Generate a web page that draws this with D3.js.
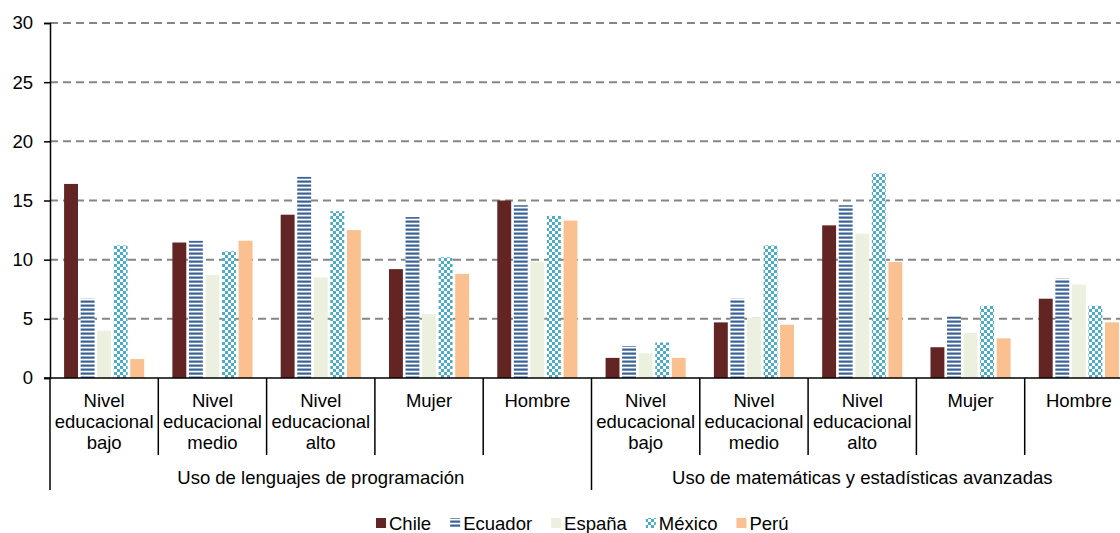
<!DOCTYPE html>
<html>
<head>
<meta charset="utf-8">
<script src="https://cdn.jsdelivr.net/npm/d3@7"></script>
<style>
  body { margin: 0; background: #fff; }
  svg text { font-family: "Liberation Sans", Arial, sans-serif; font-size: 18.5px; fill: #000; }
</style>
</head>
<body>
<svg id="myGraph" width="1120" height="533"></svg>
<script>
// categorías (dos grupos de cinco)
var grupos = ["Uso de lenguajes de programación", "Uso de matemáticas y estadísticas avanzadas"];
var subcats = [["Nivel", "educacional", "bajo"], ["Nivel", "educacional", "medio"], ["Nivel", "educacional", "alto"], ["Mujer"], ["Hombre"]];
var paises = ["Chile", "Ecuador", "España", "México", "Perú"];

// valores por país (10 categorías)
var chile   = [16.4, 11.45, 13.8, 9.2, 15.0, 1.7, 4.7, 12.9, 2.6, 6.7];
var ecuador = [6.7, 11.6, 17.0, 13.6, 14.6, 2.7, 6.7, 14.6, 5.2, 8.4];
var espana  = [4.0, 8.7, 8.5, 5.4, 9.8, 2.1, 5.1, 12.2, 3.8, 7.9];
var mexico  = [11.2, 10.7, 14.1, 10.2, 13.7, 3.0, 11.2, 17.3, 6.1, 6.1];
var peru    = [1.6, 11.6, 12.5, 8.8, 13.3, 1.7, 4.5, 9.8, 3.35, 4.7];
var series = [chile, ecuador, espana, mexico, peru];

var yTicks = [0, 5, 10, 15, 20, 25, 30];

var svg = d3.select("#myGraph");
var mLeft = 50, mTop = 23, mBottom = 378;
var catW = 108.3;
var nCat = 10;
var mRight = mLeft + catW * nCat;

// patrones
var defs = svg.append("defs");
var pEc = defs.append("pattern").attr("id", "pEc").attr("patternUnits", "userSpaceOnUse")
  .attr("width", 4).attr("height", 4);
pEc.append("rect").attr("width", 4).attr("height", 4).attr("fill", "#ffffff");
pEc.append("rect").attr("y", 0.5).attr("width", 4).attr("height", 2.2).attr("fill", "#3a6195");
var pMx = defs.append("pattern").attr("id", "pMx").attr("patternUnits", "userSpaceOnUse")
  .attr("width", 6).attr("height", 6);
pMx.append("rect").attr("width", 6).attr("height", 6).attr("fill", "#ffffff");
pMx.append("rect").attr("width", 3).attr("height", 3).attr("fill", "#4bacc6");
pMx.append("rect").attr("x", 3).attr("y", 3).attr("width", 3).attr("height", 3).attr("fill", "#4bacc6");

var fills = ["#632523", "url(#pEc)", "#ebf1de", "url(#pMx)", "#fac090"];

var y = d3.scaleLinear().domain([0, 30]).range([mBottom, mTop]);
var x0 = d3.scaleBand().domain(d3.range(nCat)).range([mLeft, mRight]).padding(0);
var x1 = d3.scaleBand().domain(paises).range([catW * 0.13, catW * 0.87]).paddingInner(0.16);

// líneas de cuadrícula
svg.append("g").selectAll("line")
  .data(yTicks.filter(function(d){ return d > 0; }))
  .enter().append("line")
  .attr("x1", mLeft).attr("x2", 1120)
  .attr("y1", function(d){ return y(d); }).attr("y2", function(d){ return y(d); })
  .attr("stroke", "#868686").attr("stroke-width", 2).attr("stroke-dasharray", "8,5");

// barras
var grp = svg.append("g").selectAll("g")
  .data(series).enter().append("g")
  .attr("fill", function(d, i){ return fills[i]; });
grp.selectAll("rect")
  .data(function(d, i){ return d.map(function(v, j){ return {v: v, j: j, p: paises[i]}; }); })
  .enter().append("rect")
  .attr("x", function(d){ return x0(d.j) + x1(d.p); })
  .attr("y", function(d){ return y(d.v); })
  .attr("width", x1.bandwidth())
  .attr("height", function(d){ return y(0) - y(d.v); });

// eje Y
var yAxis = d3.axisLeft(y).tickValues(yTicks).tickSize(6).tickPadding(11);
var gy = svg.append("g").attr("transform", "translate(" + mLeft + ",0)").call(yAxis);
gy.select(".domain").attr("stroke", "#000").attr("stroke-width", 1.5);
gy.selectAll(".tick line").attr("stroke", "#000").attr("stroke-width", 1.5);
gy.selectAll(".tick text").attr("font-size", 18.5).attr("font-family", "Liberation Sans, Arial, sans-serif").attr("fill", "#000");

// eje X
svg.append("line").attr("x1", mLeft - 6).attr("x2", 1120).attr("y1", mBottom).attr("y2", mBottom)
  .attr("stroke", "#000").attr("stroke-width", 1.5);

// separadores de categorías
var seps = d3.range(nCat + 1);
svg.append("g").selectAll("line").data(seps).enter().append("line")
  .attr("x1", function(d){ return mLeft + d * catW; })
  .attr("x2", function(d){ return mLeft + d * catW; })
  .attr("y1", mBottom)
  .attr("y2", function(d){ return d % 5 === 0 ? 490 : 455; })
  .attr("stroke", "#000").attr("stroke-width", 1.5);

// etiquetas de categorías
var labs = svg.append("g").selectAll("text").data(d3.range(nCat)).enter().append("text")
  .attr("text-anchor", "middle")
  .attr("x", function(d){ return x0(d) + x0.bandwidth() / 2; })
  .attr("y", 407);
labs.selectAll("tspan")
  .data(function(d){ return subcats[d % 5]; })
  .enter().append("tspan")
  .attr("x", function(){ return d3.select(this.parentNode).attr("x"); })
  .attr("dy", function(d, i){ return i === 0 ? 0 : 21; })
  .text(function(d){ return d; });

// etiquetas de grupo
svg.append("g").selectAll("text").data(grupos).enter().append("text")
  .attr("text-anchor", "middle")
  .attr("x", function(d, i){ return mLeft + catW * 5 * i + catW * 2.5; })
  .attr("y", 484)
  .text(function(d){ return d; });

// leyenda
var lg = svg.append("g");
var lx = 376;
paises.forEach(function(p, i){
  lg.append("rect").attr("x", lx).attr("y", 518).attr("width", 10).attr("height", 10)
    .attr("fill", fills[i]);
  var t = lg.append("text").attr("x", lx + 13).attr("y", 530).text(p);
  lx = lx + 13 + t.node().getComputedTextLength() + 19;
});
</script>
</body>
</html>
